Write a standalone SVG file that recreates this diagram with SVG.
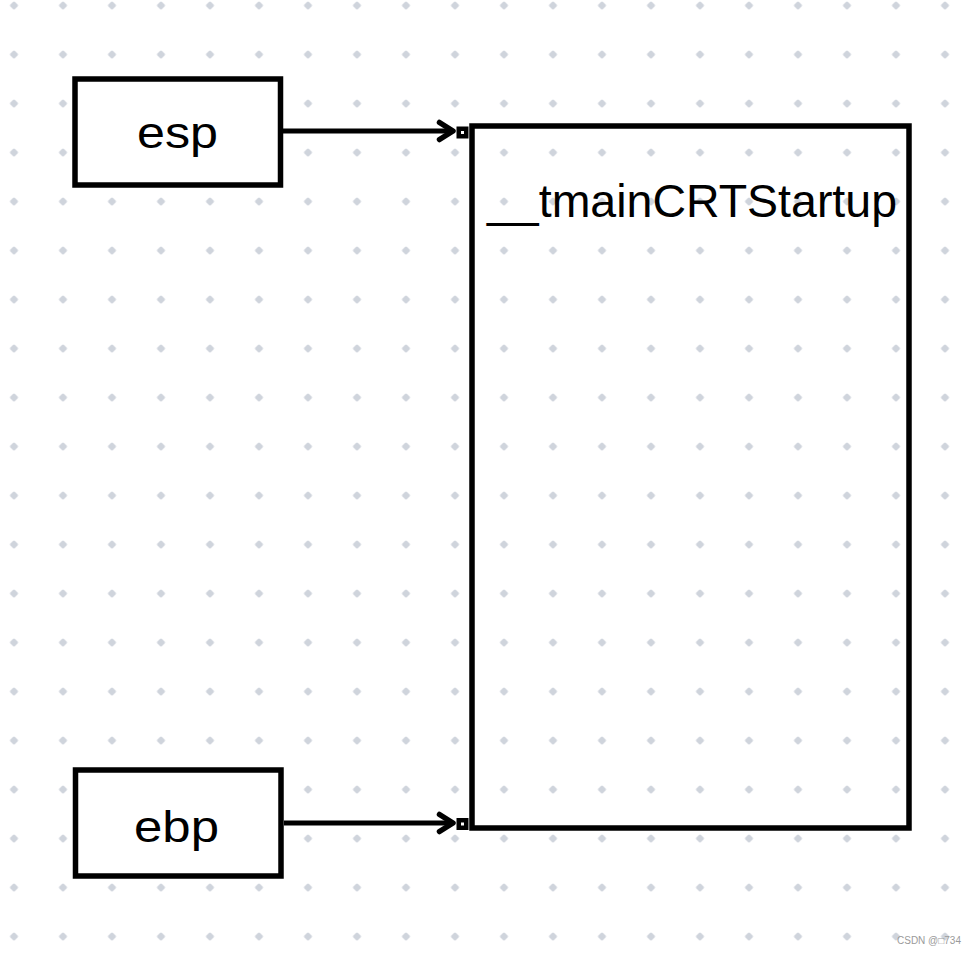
<svg xmlns="http://www.w3.org/2000/svg" width="977" height="953" viewBox="0 0 977 953">
  <defs>
    <pattern id="dots" x="-10.5" y="-19" width="49" height="49" patternUnits="userSpaceOnUse">
      <rect x="21.25" y="21.25" width="6.5" height="6.5" rx="1.5" fill="#cfd4dc" transform="rotate(45 24.5 24.5)"/>
    </pattern>
    <style>
      .box { fill: #ffffff; stroke: #000000; stroke-width: 5.5; }
      .lbl { font-family: "Liberation Sans", Arial, sans-serif; fill: #000000; }
      .conn { fill: none; stroke: #000000; stroke-width: 5; }
      .head { fill: none; stroke: #000000; stroke-width: 5.5; stroke-linecap: round; stroke-linejoin: round; }
      .port { fill: #000000; }
      .porthole { fill: #ffffff; }
    </style>
  </defs>
  <rect x="0" y="0" width="977" height="953" fill="#ffffff"/>
  <rect x="0" y="0" width="977" height="953" fill="url(#dots)"/>

  <g id="node-main">
    <rect class="box" x="472" y="126" width="437" height="702" fill-opacity="0"/>
    <text class="lbl" x="487" y="217" font-size="46.5" textLength="410" lengthAdjust="spacingAndGlyphs">__tmainCRTStartup</text>
  </g>

  <g id="node-esp">
    <rect class="box" x="75" y="79" width="205.5" height="106"/>
    <text class="lbl" x="137" y="148" font-size="45" textLength="81" lengthAdjust="spacingAndGlyphs">esp</text>
  </g>

  <g id="node-ebp">
    <rect class="box" x="75.5" y="770" width="205.5" height="106"/>
    <text class="lbl" x="134" y="842" font-size="45" textLength="85" lengthAdjust="spacingAndGlyphs">ebp</text>
  </g>

  <g id="connectors">
    <line class="conn" x1="283" y1="131" x2="452" y2="131"/>
    <polyline class="head" points="439.5,122.5 453,131 439.5,139.5"/>
    <rect class="port" x="456.5" y="126.5" width="12" height="12"/>
    <rect class="porthole" x="461" y="131" width="3" height="3"/>

    <line class="conn" x1="284" y1="823" x2="452" y2="823"/>
    <polyline class="head" points="439.5,814.5 453,823 439.5,831.5"/>
    <rect class="port" x="456.5" y="818" width="12" height="12"/>
    <rect class="porthole" x="461" y="822.5" width="3" height="3"/>
  </g>

  <text x="897" y="944" font-family="'Liberation Sans', Arial, 'Noto Sans CJK SC', sans-serif" font-size="10" fill="#9a9a9a">CSDN @□734</text>
</svg>
